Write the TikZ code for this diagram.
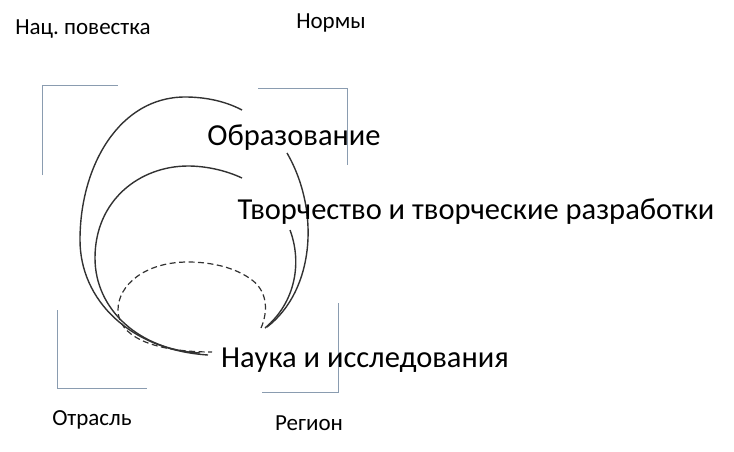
\documentclass[tikz,border=0pt]{standalone}
\usepackage{fontspec}
\setmainfont{Carlito}
\definecolor{brk}{RGB}{138,156,176}
\definecolor{crv}{RGB}{50,50,50}
\frenchspacing
\begin{document}
\begin{tikzpicture}[x=1pt,y=-1pt,
  curve/.style={draw=crv, line width=1.4pt},
  dcurve/.style={draw=crv, line width=1.2pt, dash pattern=on 6pt off 3.5pt},
  bracket/.style={draw=brk, line width=1pt},
  small/.style={font=\fontsize{23}{27}\selectfont, inner sep=0pt, text=black, anchor=base},
  big/.style={font=\fontsize{30.5}{36}\selectfont, inner sep=0pt, text=black, anchor=base}]
\useasboundingbox (0,0) rectangle (734,451);
% brackets
\draw[bracket] (42,175) -- (42,85) -- (118,85);
\draw[bracket] (258,88) -- (347,88) -- (347,165);
\draw[bracket] (57,310) -- (57,388) -- (147,388);
\draw[bracket] (338,303) -- (338,392) -- (262,392);
% outer curve
\draw[curve] (242,110) .. controls (225,101) and (205,97) .. (185,97)
  .. controls (120,97) and (80,165) .. (80,240)
  .. controls (80,300) and (130,350) .. (208,355);
\draw[curve] (287,153) .. controls (320,210) and (315,290) .. (267,327);
% inner curve
\draw[curve] (242,178) .. controls (225,170) and (205,166) .. (188,166)
  .. controls (140,166) and (95,200) .. (95,258)
  .. controls (95,310) and (140,350) .. (200,353);
\draw[curve] (290,230) .. controls (302,262) and (296,302) .. (265,328);
% dashed curve
\draw[dcurve] (261,328) .. controls (268,312) and (268,292) .. (252,280)
  .. controls (235,267) and (210,262) .. (188,262)
  .. controls (145,262) and (118,285) .. (118,310)
  .. controls (118,335) and (150,352) .. (212,352);
% labels
\node[small] (nac) at (83,34) {Нац. повестка};
\node[small] (norm) at (331,28) {Нормы};
\node[small] (otr) at (92,425) {Отрасль};
\node[small] (reg) at (309,430) {Регион};
\node[big] (obr) at (294,145) {Образование};
\node[big] (tvo) at (476,219) {Творчество и творческие разработки};
\node[big] (nauka) at (365,367) {Наука и исследования};
\end{tikzpicture}
\end{document}
